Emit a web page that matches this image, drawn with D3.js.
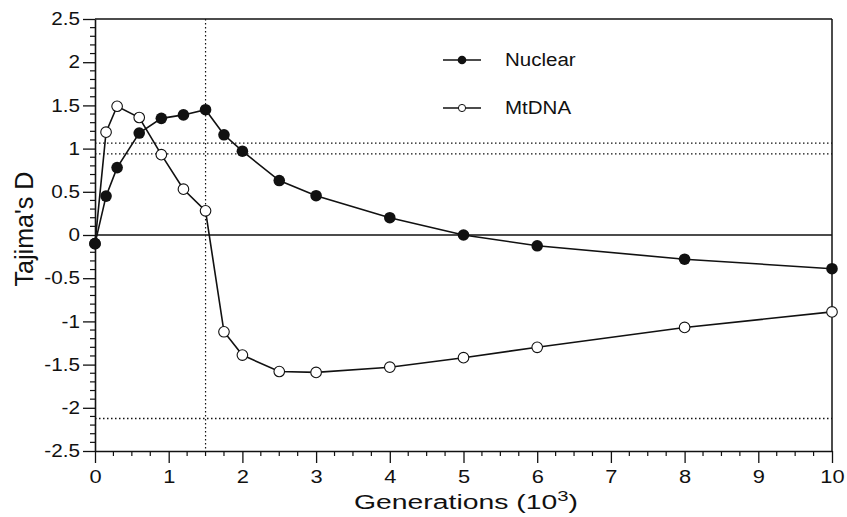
<!DOCTYPE html>
<html>
<head>
<meta charset="utf-8">
<script src="https://cdn.jsdelivr.net/npm/d3@7"></script>
<style>
  html, body { margin: 0; padding: 0; background: #fff; }
  svg { display: block; }
  text { font-family: "Liberation Sans", Arial, Helvetica, sans-serif; fill: #111; }
</style>
</head>
<body>
<svg id="chart" width="847" height="517"></svg>
<script>
// ---- data ----
const generations = [0, 0.15, 0.3, 0.6, 0.9, 1.2, 1.5, 1.75, 2, 2.5, 3, 4, 5, 6, 8, 10];
const nuclear = [-0.1, 0.45, 0.78, 1.18, 1.35, 1.39, 1.45, 1.16, 0.97, 0.63, 0.455, 0.2, 0.0, -0.125, -0.28, -0.39];
const mtdna = [-0.1, 1.19, 1.49, 1.36, 0.93, 0.53, 0.28, -1.12, -1.39, -1.58, -1.59, -1.53, -1.42, -1.30, -1.07, -0.89];
const xTicks = [0, 1, 2, 3, 4, 5, 6, 7, 8, 9, 10];
const yTicks = [-2.5, -2, -1.5, -1, -0.5, 0, 0.5, 1, 1.5, 2, 2.5];
const hRefLines = [1.063, 0.939, -2.124];
const vRefLines = [1.5];
const seriesNames = ["Nuclear", "MtDNA"];

// ---- layout ----
const svg = d3.select("#chart");
const x = d3.scaleLinear().domain([0, 10]).range([95, 832]);
const y = d3.scaleLinear().domain([-2.5, 2.5]).range([451, 19]);
const ink = "#111";
const STRETCH = 1.15;

// reference lines (dotted)
svg.append("g").selectAll("line.h").data(hRefLines).join("line")
  .attr("x1", x(0)).attr("x2", x(10))
  .attr("y1", d => y(d)).attr("y2", d => y(d))
  .attr("stroke", ink).attr("stroke-width", 1.3).attr("stroke-dasharray", "1.5,2.5");
svg.append("g").selectAll("line.v").data(vRefLines).join("line")
  .attr("x1", d => x(d)).attr("x2", d => x(d))
  .attr("y1", y(2.5)).attr("y2", y(-2.5))
  .attr("stroke", ink).attr("stroke-width", 1.2).attr("stroke-dasharray", "1.5,2.5");

// zero line
svg.append("line")
  .attr("x1", x(0)).attr("x2", x(10)).attr("y1", y(0)).attr("y2", y(0))
  .attr("stroke", ink).attr("stroke-width", 1.5);

// frame (top & right)
svg.append("line").attr("x1", x(0)).attr("x2", x(10)).attr("y1", y(2.5)).attr("y2", y(2.5))
  .attr("stroke", ink).attr("stroke-width", 1.5);
svg.append("line").attr("x1", x(10)).attr("x2", x(10)).attr("y1", y(2.5)).attr("y2", y(-2.5))
  .attr("stroke", ink).attr("stroke-width", 1.5);

// minor ticks
const xMinor = d3.range(0, 10.001, 0.25).filter(v => Math.abs(v - Math.round(v)) > 1e-6);
const yMinor = d3.range(-2.5, 2.5001, 0.1).filter(v => Math.abs(v * 2 - Math.round(v * 2)) > 1e-6);
svg.append("g").selectAll("line").data(xMinor).join("line")
  .attr("x1", d => x(d)).attr("x2", d => x(d)).attr("y1", y(-2.5)).attr("y2", y(-2.5) + 5)
  .attr("stroke", ink).attr("stroke-width", 1.2);
svg.append("g").selectAll("line").data(yMinor).join("line")
  .attr("x1", x(0) - 5).attr("x2", x(0)).attr("y1", d => y(d)).attr("y2", d => y(d))
  .attr("stroke", ink).attr("stroke-width", 1.2);

// axes
const fmt = d => String(d);
const xAxis = svg.append("g").attr("transform", `translate(0,${y(-2.5)})`)
  .call(d3.axisBottom(x).tickValues(xTicks).tickFormat(fmt).tickSize(12).tickPadding(7).tickSizeOuter(0));
const yAxis = svg.append("g").attr("transform", `translate(${x(0)},0)`)
  .call(d3.axisLeft(y).tickValues(yTicks).tickFormat(fmt).tickSize(12).tickPadding(3).tickSizeOuter(0));
[xAxis, yAxis].forEach(g => {
  g.select(".domain").attr("stroke", ink).attr("stroke-width", 1.6);
  g.selectAll(".tick line").attr("stroke", ink).attr("stroke-width", 1.3);
  g.selectAll(".tick text").attr("fill", ink).style("font-family", '"Liberation Sans", Arial, sans-serif');
});
xAxis.selectAll(".tick text").style("font-size", "19px")
  .attr("transform", `scale(${STRETCH},1)`);
yAxis.selectAll(".tick text").style("font-size", "18px")
  .attr("transform", `translate(-15,0) scale(${STRETCH},1) translate(15,0)`);

// series
const line = d3.line().x(d => x(d[0])).y(d => y(d[1]));
const nucPts = generations.map((g, i) => [g, nuclear[i]]);
const mtPts = generations.map((g, i) => [g, mtdna[i]]);
svg.append("path").datum(mtPts).attr("d", line).attr("fill", "none").attr("stroke", ink).attr("stroke-width", 1.6);
svg.append("path").datum(nucPts).attr("d", line).attr("fill", "none").attr("stroke", ink).attr("stroke-width", 1.6);
svg.append("g").selectAll("circle").data(mtPts).join("circle")
  .attr("cx", d => x(d[0])).attr("cy", d => y(d[1])).attr("r", 5.3)
  .attr("fill", "#fff").attr("stroke", ink).attr("stroke-width", 1.1);
svg.append("g").selectAll("circle").data(nucPts).join("circle")
  .attr("cx", d => x(d[0])).attr("cy", d => y(d[1])).attr("r", 5.8)
  .attr("fill", ink);

// legend
const legY = [60, 108];
const leg = svg.append("g");
seriesNames.forEach((name, i) => {
  leg.append("line").attr("x1", 443).attr("x2", 481).attr("y1", legY[i]).attr("y2", legY[i])
    .attr("stroke", ink).attr("stroke-width", 1.5);
  if (i === 0) {
    leg.append("circle").attr("cx", 462).attr("cy", legY[i]).attr("r", 4.3).attr("fill", ink);
  } else {
    leg.append("circle").attr("cx", 462).attr("cy", legY[i]).attr("r", 3.6)
      .attr("fill", "#fff").attr("stroke", ink).attr("stroke-width", 1);
  }
  leg.append("text").attr("x", 505).attr("y", legY[i] + 6.5)
    .style("font-size", "19px")
    .attr("transform", `translate(505,0) scale(1.08,1) translate(-505,0)`)
    .text(name);
});

// axis titles
const xt = svg.append("text").attr("x", 0).attr("y", 0).style("font-size", "21px");
xt.append("tspan").text("Generations (10");
xt.append("tspan").attr("dy", -8).style("font-size", "15px").text("3");
xt.append("tspan").attr("dy", 8).text(")");
const xw = xt.node().getComputedTextLength();
const xs = 224 / xw;
xt.attr("transform", `translate(354,509) scale(${xs},1)`);

const yt = svg.append("text")
  .attr("transform", "translate(33,229) rotate(-90)")
  .attr("text-anchor", "middle")
  .style("font-size", "25px")
  .text("Tajima's D");
yt.attr("textLength", 115).attr("lengthAdjust", "spacingAndGlyphs");
</script>
</body>
</html>
